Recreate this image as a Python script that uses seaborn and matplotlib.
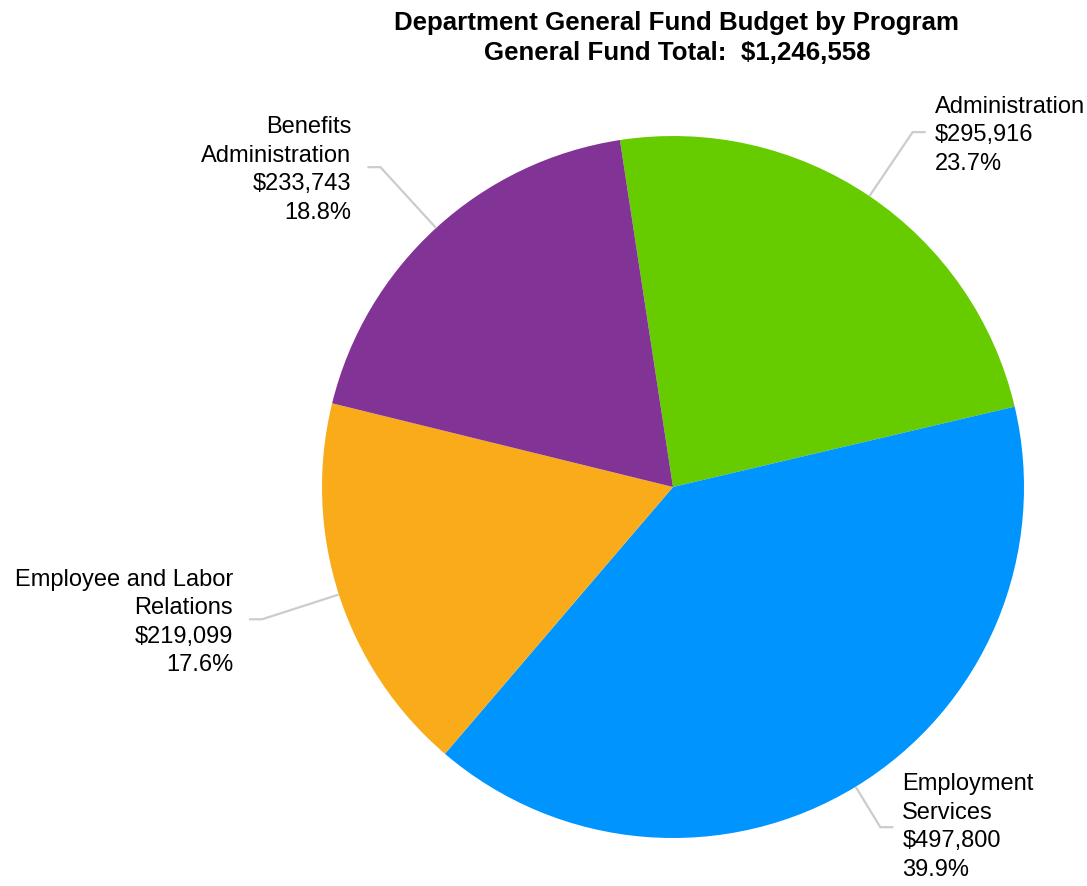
import numpy as np
import matplotlib
matplotlib.use("Agg")
import matplotlib.pyplot as plt
import seaborn as sns

# Program budgets (General Fund)
programs = ["Administration", "Employment\nServices",
            "Employee and Labor\nRelations", "Benefits\nAdministration"]
budgets = [295916, 497800, 219099, 233743]
colors = ["#66CC00", "#0094FF", "#F9AB1A", "#813396"]
chart_title = "Department General Fund Budget by Program"

sns.set_theme(style="white")
plt.rcParams["font.family"] = ["Liberation Sans", "DejaVu Sans"]

W, H = 1087, 886
fig = plt.figure(figsize=(W / 100, H / 100), dpi=100)
fig.patch.set_facecolor("white")

# pie geometry in pixels
R = 351.0
cx, cy = 673.0, 487.0
ax = fig.add_axes([0, 0, 1, 1])

palette = sns.color_palette(colors)
wedges, _ = ax.pie(budgets, colors=palette, startangle=98.7, counterclock=False,
                   radius=1.0, wedgeprops=dict(linewidth=0))
ax.set_xlim(-cx / R, (W - cx) / R)
ax.set_ylim(-(H - cy) / R, cy / R)
ax.set_aspect("equal")
ax.axis("off")

total = sum(budgets)
px = 1.0 / R
# connector elbow radius per slice and horizontal run / text gap (pixels)
elbow_r = [1.22, 1.135, 1.23, 1.235]
text_drop = [3, 0, 3, 3]
run = 13
gap_right, gap_left = 9, 16

for w, name, val, r_elb, drop in zip(wedges, programs, budgets, elbow_r, text_drop):
    ang = np.deg2rad((w.theta1 + w.theta2) / 2.0)
    ex, ey = np.cos(ang), np.sin(ang)
    bx, by = r_elb * ex, r_elb * ey
    side = 1 if ex >= 0 else -1
    hx = bx + side * run * px
    ax.plot([ex, bx, hx], [ey, by, by], color="#CCCCCC", lw=1.6,
            solid_capstyle="butt", zorder=1)
    gap = gap_right if side > 0 else gap_left
    label = f"{name}\n${val:,}\n{val / total * 100:.1f}%"
    ax.text(hx + side * gap * px, by - drop * px, label,
            ha="left" if side > 0 else "right",
            va="center", multialignment="left" if side > 0 else "right",
            fontsize=17.0, linespacing=1.38, color="black")

fig.text(677 / W, 1 - 38 / H, f"{chart_title}\nGeneral Fund Total:  ${total:,}",
         ha="center", va="center", fontsize=18.6, fontweight="bold",
         linespacing=1.33, color="black")

fig.savefig("out.png", dpi=100, facecolor="white")
